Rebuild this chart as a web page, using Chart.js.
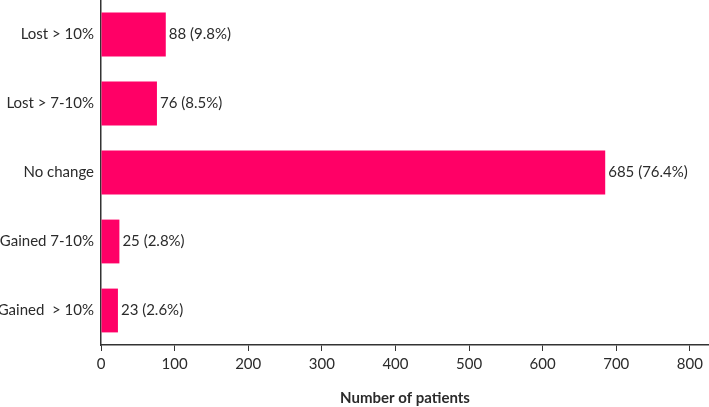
<!DOCTYPE html>
<html>
<head>
<meta charset="utf-8">
<script src="https://cdn.jsdelivr.net/npm/chart.js@4/dist/chart.umd.min.js"></script>
<style>
  html, body { margin: 0; padding: 0; background: #fff; }
  #wrap { width: 709px; height: 407px; position: relative; }
</style>
</head>
<body>
<div id="wrap"><canvas id="mainChart"></canvas></div>
<script>
const categories = ["Lost > 10%", "Lost > 7-10%", "No change", "Gained 7-10%", "Gained  > 10%"];
const patients = [88, 76, 685, 25, 23];
const percents = ["9.8%", "8.5%", "76.4%", "2.8%", "2.6%"];
const xTicks = [0, 100, 200, 300, 400, 500, 600, 700, 800];

const ctx = document.getElementById('mainChart').getContext('2d');

new Chart(ctx, {
    type: 'bar',
    data: {
        labels: categories,
        datasets: [{
            data: patients,
            backgroundColor: '#ff0066',
            categoryPercentage: 0.635,
            barPercentage: 1
        }]
    },
    options: {
        indexAxis: 'y',
        responsive: true,
        maintainAspectRatio: false,
        animation: false,
        layout: { padding: { top: -2, right: 0, left: 0, bottom: 0 } },
        plugins: {
            legend: { display: false },
            tooltip: { enabled: false }
        },
        scales: {
            x: {
                min: 0,
                max: 826,
                afterBuildTicks: (axis) => { axis.ticks = xTicks.map(v => ({ value: v })); },
                grid: { drawOnChartArea: false, drawTicks: true, tickLength: 6, color: '#333', lineWidth: 1 },
                border: { display: true, color: '#333', width: 1.5 },
                ticks: { color: '#2b2b2b', font: { family: 'Lato', size: 15 }, padding: 4 },
                title: {
                    display: true,
                    text: 'Number of patients',
                    color: '#2b2b2b',
                    font: { family: 'Lato', size: 15, weight: 'bold' },
                    padding: { top: 12, bottom: 0 }
                }
            },
            y: {
                afterFit: (axis) => { axis.width = 101; axis.paddingTop = 0; axis.paddingBottom = 0; },
                grid: { display: false, drawTicks: false },
                border: { display: true, color: '#333', width: 1.5 },
                ticks: { color: '#2b2b2b', font: { family: 'Lato', size: 15 }, padding: 7 }
            }
        }
    },
    plugins: [{
        id: 'barLabels',
        afterDatasetsDraw: (chart) => {
            const c = chart.ctx;
            c.save();
            c.font = "15px Lato";
            c.fillStyle = '#2b2b2b';
            c.textAlign = 'left';
            c.textBaseline = 'middle';
            chart.getDatasetMeta(0).data.forEach((bar, i) => {
                c.fillText(patients[i] + ' (' + percents[i] + ')', bar.x + 3, bar.y);
            });
            c.restore();
        }
    }]
});
</script>
</body>
</html>
